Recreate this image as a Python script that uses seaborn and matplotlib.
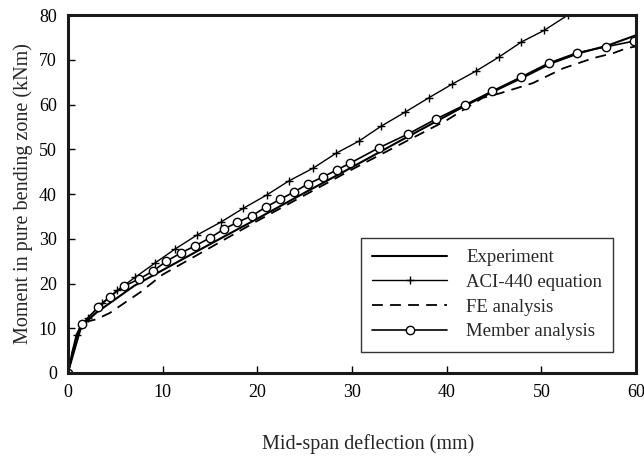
import matplotlib
matplotlib.use("Agg")
import matplotlib.pyplot as plt
import seaborn as sns

# ── Data ──────────────────────────────────────────────────────────────────
exp_x = [0, 0.4, 0.9, 1.5, 2.2, 3.0, 5.0, 7.0, 10.0, 15.0, 20.0, 25.0, 30.0,
         35.0, 40.0, 42.0, 45.0, 48.0, 51.0, 54.0, 57.0, 60.0]
exp_y = [0, 4.0, 8.5, 10.8, 12.0, 13.5, 16.5, 19.5, 23.0, 28.8, 34.5, 40.3,
         46.0, 51.8, 57.5, 59.8, 63.0, 66.0, 69.2, 71.5, 73.2, 75.5]

aci_x = [0, 1.0, 2.1, 3.6, 5.2, 7.1, 9.2, 11.3, 13.6, 16.2, 18.5, 21.0, 23.3,
         25.9, 28.3, 30.7, 33.1, 35.6, 38.1, 40.6, 43.1, 45.5, 47.9, 50.3, 52.8]
aci_y = [0, 8.5, 12.3, 15.6, 18.5, 21.4, 24.6, 27.7, 30.8, 33.8, 36.8, 39.8,
         42.9, 45.8, 49.1, 51.8, 55.2, 58.3, 61.5, 64.6, 67.5, 70.6, 74.0,
         76.6, 80.0]

fe_x = [0, 0.5, 1.2, 2.0, 3.0, 4.4, 6.2, 7.6, 10.0, 20.0, 30.0, 40.0, 43.8,
        45.6, 49.1, 52.3, 55.5, 57.6, 59.0, 60.0]
fe_y = [0, 5.0, 10.0, 11.5, 12.0, 13.4, 16.0, 18.0, 22.0, 34.0, 45.5, 56.5,
        61.5, 62.5, 64.8, 68.1, 70.4, 71.5, 72.6, 73.0]

mem_x = [0, 1.5, 3.2, 4.4, 5.9, 7.5, 9.0, 10.4, 11.9, 13.4, 15.0, 16.5, 17.9,
         19.4, 20.9, 22.4, 23.9, 25.3, 26.9, 28.4, 29.8, 32.8, 35.9, 38.9,
         41.9, 44.8, 47.8, 50.8, 53.8, 56.8, 59.8]
mem_y = [0, 11.0, 14.7, 17.0, 19.4, 21.0, 22.8, 25.0, 26.8, 28.4, 30.2, 32.2,
         33.7, 35.1, 37.1, 38.8, 40.5, 42.2, 43.8, 45.4, 46.9, 50.3, 53.4,
         56.8, 59.9, 63.0, 66.1, 69.3, 71.6, 72.9, 74.2]

x_ticks = [0, 10, 20, 30, 40, 50, 60]
y_ticks = [0, 10, 20, 30, 40, 50, 60, 70, 80]

# ── Style ─────────────────────────────────────────────────────────────────
sns.set_style("ticks")
plt.rcParams["font.family"] = ["Liberation Serif", "DejaVu Serif"]
plt.rcParams["font.size"] = 13

fig = plt.figure(figsize=(6.44, 4.58), dpi=100)
ax = fig.add_axes([0.1056, 0.1856, 0.8820, 0.7814])

sns.lineplot(x=exp_x, y=exp_y, ax=ax, sort=False, color="black", lw=1.5,
             label="Experiment")
sns.lineplot(x=aci_x, y=aci_y, ax=ax, sort=False, color="black", lw=1.0,
             marker="+", markersize=6, markeredgewidth=1.0,
             markeredgecolor="black", label="ACI-440 equation")
sns.lineplot(x=fe_x, y=fe_y, ax=ax, sort=False, color="black", lw=1.3,
             linestyle=(0, (6, 4)), label="FE analysis")
sns.lineplot(x=mem_x, y=mem_y, ax=ax, sort=False, color="black", lw=1.2,
             marker="o", markersize=6, markerfacecolor="white",
             markeredgecolor="black", markeredgewidth=1.0,
             label="Member analysis")

ax.set_xlim(0, 60)
ax.set_ylim(0, 80)
ax.set_xticks(x_ticks)
ax.set_yticks(y_ticks)
ax.tick_params(direction="in", length=5, width=1.0, colors="black",
               labelsize=13, pad=8)
for sp in ax.spines.values():
    sp.set_visible(True)
    sp.set_linewidth(2.2)
    sp.set_color("#1a1a1a")

ax.set_xlabel("Mid-span deflection (mm)", fontsize=14.5, labelpad=24, x=0.528)
ax.set_ylabel("Moment in pure bending zone (kNm)", fontsize=14.5, labelpad=4)

leg = ax.legend(loc="lower right", bbox_to_anchor=(0.96, 0.06),
                borderaxespad=0, numpoints=1,
                frameon=True, fancybox=False, fontsize=13.5,
                handlelength=4.0, borderpad=0.6, labelspacing=0.4,
                handletextpad=1.0)
leg.get_frame().set_edgecolor("black")
leg.get_frame().set_linewidth(1.0)

fig.savefig("out.png", dpi=100)
